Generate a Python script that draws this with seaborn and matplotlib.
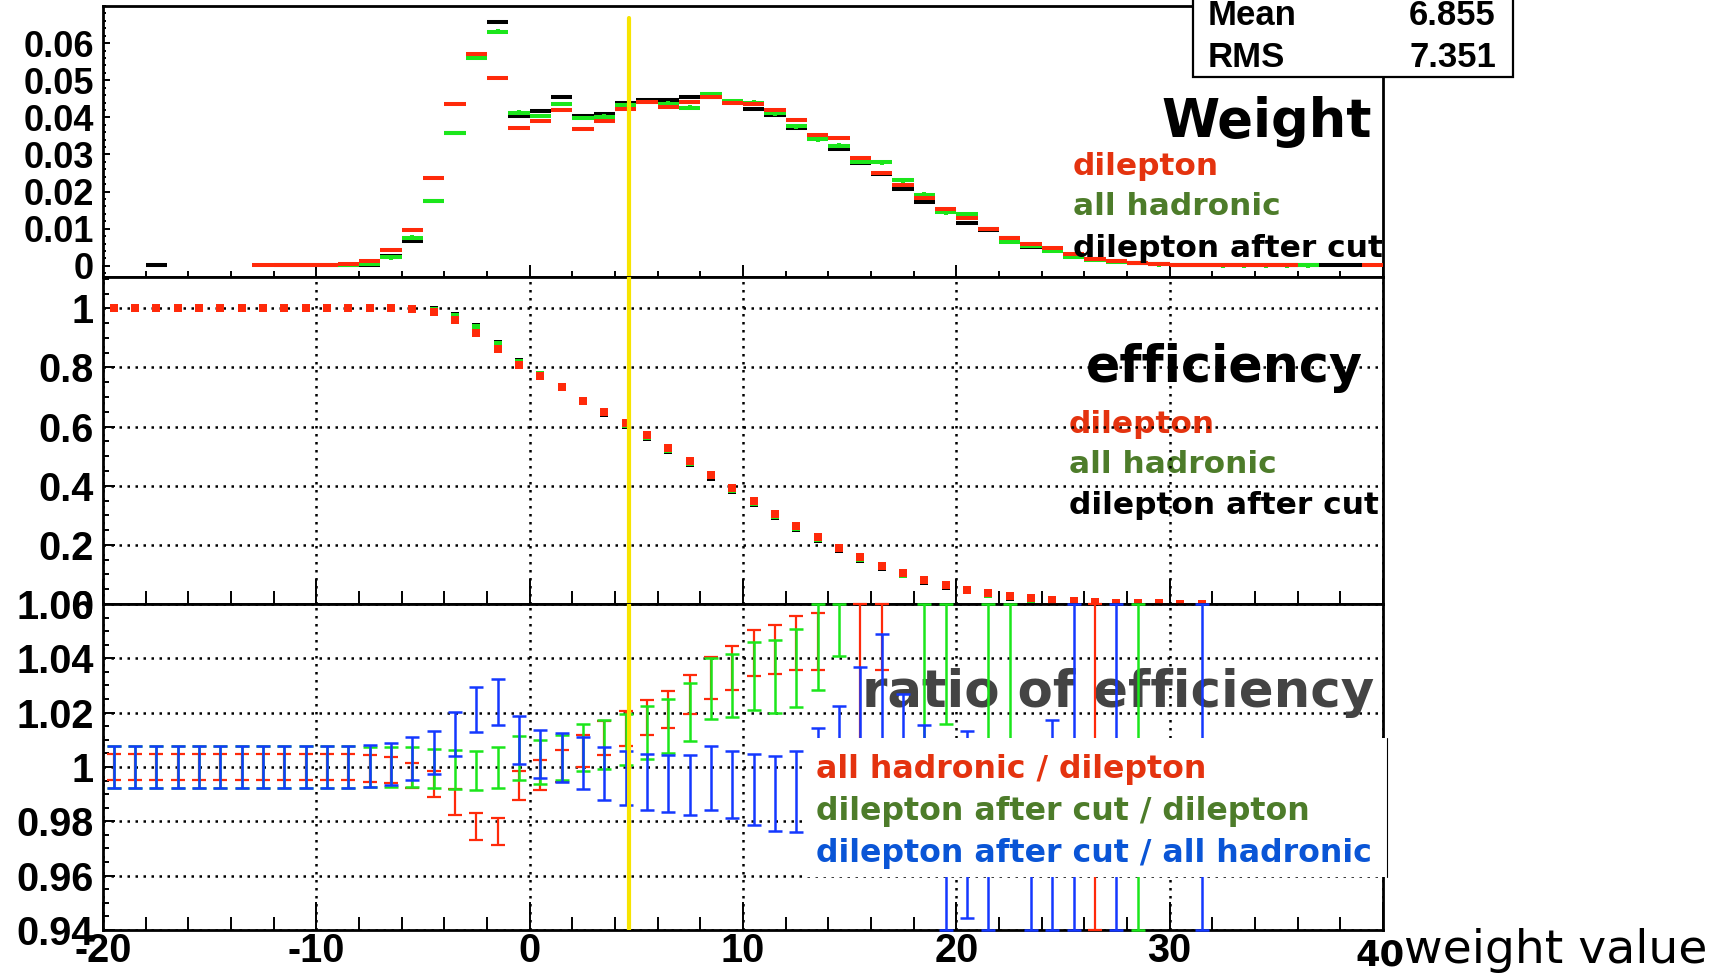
import numpy as np
import matplotlib
matplotlib.use("Agg")
import matplotlib.pyplot as plt
import seaborn as sns
from matplotlib.patches import Rectangle
from matplotlib.lines import Line2D

nan = np.nan

# ---------------- data ----------------
bin_centers = np.arange(-19.5, 40.0, 1.0)          # 60 bins of width 1 from -20 to 40

w_dilepton = [nan, nan, nan, nan, nan, nan, nan, 0.0001, 0.0001, 0.0002,
              0.0002, 0.0005, 0.0014, 0.0044, 0.0097, 0.0238, 0.0435, 0.0570, 0.0507, 0.0372,
              0.0391, 0.0420, 0.0370, 0.0391, 0.0422, 0.0441, 0.0429, 0.0441, 0.0454, 0.0438,
              0.0437, 0.0420, 0.0392, 0.0353, 0.0344, 0.0290, 0.0250, 0.0218, 0.0182, 0.0153,
              0.0130, 0.0100, 0.0076, 0.0059, 0.0049, 0.0031, 0.0019, 0.0012, 0.0008, 0.0005,
              0.0003, 0.0002, 0.0002, 0.0001, 0.0001, 0.0001, nan, nan, nan, 0.0001]
w_hadronic = [nan, nan, nan, nan, nan, nan, nan, nan, nan, nan,
              nan, 0.0002, 0.0005, 0.0023, 0.0076, 0.0175, 0.0358, 0.0560, 0.0631, 0.0413,
              0.0403, 0.0436, 0.0398, 0.0402, 0.0433, 0.0442, 0.0437, 0.0426, 0.0462, 0.0443,
              0.0440, 0.0411, 0.0376, 0.0341, 0.0324, 0.0280, 0.0279, 0.0230, 0.0192, 0.0144,
              0.0140, 0.0099, 0.0064, 0.0053, 0.0040, 0.0025, 0.0017, 0.0011, 0.0007, 0.0004,
              0.0003, 0.0002, 0.0001, 0.0001, 0.0001, 0.0001, 0.0001, nan, nan, nan]
w_aftercut = [nan, nan, 0.0002, nan, nan, nan, nan, nan, 0.0001, 0.0001,
              0.0001, 0.0001, 0.0003, 0.0027, 0.0068, 0.0174, 0.0357, 0.0564, 0.0658, 0.0403,
              0.0418, 0.0455, 0.0403, 0.0409, 0.0438, 0.0447, 0.0446, 0.0455, 0.0456, 0.0441,
              0.0423, 0.0407, 0.0371, 0.0347, 0.0314, 0.0278, 0.0248, 0.0208, 0.0173, 0.0147,
              0.0116, 0.0097, 0.0075, 0.0050, 0.0045, 0.0028, 0.0019, 0.0012, 0.0008, 0.0005,
              0.0003, 0.0002, 0.0001, 0.0001, 0.0001, 0.0001, 0.0001, 0.0001, 0.0001, nan]

eff_x = np.arange(-19.5, 32.0, 1.0)                 # 52 points
eff_dilepton = [1.0] * 14 + [0.997, 0.987, 0.962, 0.918, 0.862, 0.810, 0.772, 0.734, 0.688, 0.651,
                0.611, 0.570, 0.527, 0.484, 0.438, 0.392, 0.349, 0.305, 0.263, 0.226,
                0.191, 0.158, 0.130, 0.104, 0.081, 0.064, 0.049, 0.036, 0.027, 0.019,
                0.014, 0.009, 0.006, 0.004, 0.003, 0.002, 0.001, 0.0005]
eff_hadronic = [1.0] * 14 + [0.999, 0.992, 0.970, 0.933, 0.876, 0.814, 0.774, 0.735, 0.688, 0.650,
                0.609, 0.567, 0.524, 0.481, 0.435, 0.389, 0.346, 0.302, 0.260, 0.223,
                0.189, 0.156, 0.128, 0.102, 0.080, 0.063, 0.048, 0.035, 0.026, 0.018,
                0.013, 0.008, 0.005, 0.004, 0.003, 0.002, 0.001, 0.0005]
eff_aftercut = [1.0] * 14 + [0.999, 0.994, 0.974, 0.937, 0.880, 0.818, 0.776, 0.734, 0.686, 0.647,
                0.606, 0.564, 0.521, 0.477, 0.431, 0.385, 0.342, 0.298, 0.257, 0.220,
                0.186, 0.153, 0.125, 0.100, 0.078, 0.061, 0.047, 0.034, 0.025, 0.017,
                0.012, 0.008, 0.005, 0.003, 0.002, 0.001, 0.001, 0.0005]

# ratio of efficiency: central values and half-errors (52 points, same x as eff_x)
r_had_dil = [1.0] * 12 + [0.9993, 0.9988, 0.9968, 0.9938, 0.9872, 0.9782, 0.9763, 0.9933,
             0.9970, 1.0003, 1.0059, 1.0107, 1.0141, 1.0183, 1.0210, 1.0266, 1.0327, 1.0365,
             1.0419, 1.0433, 1.0456, 1.0462, nan, 1.020, 1.062,
             nan, nan, nan, nan, nan, nan, nan, nan, nan, 1.0, nan, nan, nan, nan, nan]
e_had_dil = [0.0048] * 12 + [0.0050, 0.0048, 0.0047, 0.0048, 0.0047, 0.0050, 0.0049, 0.0054,
             0.0054, 0.0060, 0.0058, 0.0062, 0.0064, 0.0065, 0.0068, 0.0071, 0.0077, 0.0080,
             0.0084, 0.0091, 0.0099, 0.0106, nan, 0.045, 0.0263,
             nan, nan, nan, nan, nan, nan, nan, nan, nan, 0.2, nan, nan, nan, nan, nan]
r_cut_dil = [1.0] * 15 + [0.9993, 0.9991, 0.9988, 0.9998, 1.0033,
             1.0019, 1.0035, 1.0073, 1.0083, 1.0102, 1.0127, 1.0151, 1.0201, 1.0288, 1.0300,
             1.0335, 1.0333, 1.0364, 1.0442, 1.062, nan, nan, nan, 1.03, 1.04,
             nan, 1.015, 1.015, nan, nan, nan, nan, nan, 1.0, nan, nan, nan]
e_cut_dil = [0.0077] * 12 + [0.0072, 0.0072, 0.0072, 0.0072, 0.0073, 0.0072, 0.0077, 0.0080,
             0.0081, 0.0083, 0.0086, 0.0089, 0.0094, 0.0096, 0.0100, 0.0107, 0.0112, 0.0116,
             0.0126, 0.0134, 0.0144, 0.0157, 0.021, nan, nan, nan, 0.05, 0.0243,
             nan, 0.05, 0.05, nan, nan, nan, nan, nan, 0.2, nan, nan, nan]
r_cut_had = [1.0] * 12 + [1.0003, 1.0010, 1.0031, 1.0054, 1.0122, 1.0210, 1.0238, 1.0099,
             1.0047, 1.0035, 1.0014, 0.9976, 0.9959, 0.9945, 0.9940, 0.9935, 0.9959, 0.9935,
             0.9917, 0.9903, 0.9910, 0.990, 0.995, 1.000, 1.005, 1.000, 0.990, 0.950,
             0.9789, 0.950, nan, 0.950, 0.970, 1.0, nan, 1.0, nan, nan, nan, 1.0]
e_cut_had = [0.0077] * 12 + [0.0077, 0.0078, 0.0079, 0.0079, 0.0080, 0.0083, 0.0085, 0.0087,
             0.0089, 0.0090, 0.0096, 0.0097, 0.0099, 0.0102, 0.0106, 0.0110, 0.0117, 0.0123,
             0.0130, 0.0139, 0.0149, 0.0243, 0.0273, 0.0369, 0.0438, 0.0270, 0.0253, 0.050,
             0.0343, 0.050, nan, 0.050, 0.0472, 0.2, nan, 0.2, nan, nan, nan, 0.2]

cut_position = 4.65
x_ticks = [-20, -10, 0, 10, 20, 30, 40]
x_tick_labels = ["-20", "-10", "0", "10", "20", "30", ""]
last_x_label = "40"
top_yticks = [0, 0.01, 0.02, 0.03, 0.04, 0.05, 0.06]
top_ylabels = ["0", "0.01", "0.02", "0.03", "0.04", "0.05", "0.06"]
mid_yticks = [0, 0.2, 0.4, 0.6, 0.8, 1.0]
mid_ylabels = ["0", "0.2", "0.4", "0.6", "0.8", "1"]
bot_yticks = [0.94, 0.96, 0.98, 1.0, 1.02, 1.04, 1.06]
bot_ylabels = ["0.94", "0.96", "0.98", "1", "1.02", "1.04", "1.06"]

# ---------------- style ----------------
sns.set_theme(style="white")
plt.rcParams['font.family'] = ['Liberation Sans', 'DejaVu Sans']
plt.rcParams['axes.unicode_minus'] = False

RED, GREEN, BLUE, YELLOW = '#ff2a0a', '#1be61b', '#1438ff', '#f7e400'
TXT_RED, TXT_GREEN, TXT_BLUE, TXT_GRAY = '#e4330f', '#4d7c2a', '#0a55d6', '#444444'
TITLE_FONT = 'DejaVu Sans'

W, H = 1715, 976
fig = plt.figure(figsize=(W / 100, H / 100), dpi=100)
fig.patch.set_facecolor('white')


def axes_px(x0, y0, x1, y1):
    return fig.add_axes([x0 / W, 1 - y1 / H, (x1 - x0) / W, (y1 - y0) / H])


def fx(x):
    return x / W


def fy(y):
    return 1 - y / H


ax_top = axes_px(103, 6, 1383, 277)
ax_mid = axes_px(103, 277, 1383, 604)
ax_bot = axes_px(103, 604, 1383, 930)

GRID = dict(color='black', linestyle=(0, (1, 2.2)), linewidth=1.8)


def style(ax, xl, ylims, yticks, ylabels, ysize, xmaj, xmin, ymaj, ymin, yminor_step, grid):
    ax.set_facecolor('white')
    ax.set_xlim(-20, 40)
    ax.set_ylim(*ylims)
    for s in ax.spines.values():
        s.set_visible(True)
        s.set_color('black')
        s.set_linewidth(2.0)
    ax.set_xticks(x_ticks)
    ax.set_xticks(np.arange(-20, 41, 2), minor=True)
    ax.set_yticks(yticks, ylabels, fontsize=ysize, fontweight='bold')
    ax.set_yticks(np.arange(ylims[0] - ylims[0] % yminor_step, ylims[1], yminor_step), minor=True)
    ax.set_ylim(*ylims)
    ax.tick_params(axis='x', which='major', direction='in', length=xmaj, width=1.4,
                   bottom=True, top=False, color='black')
    ax.tick_params(axis='x', which='minor', direction='in', length=xmin, width=1.4,
                   bottom=True, top=False, color='black')
    ax.tick_params(axis='y', which='major', direction='in', length=ymaj, width=1.4,
                   left=True, right=False, pad=6.5, color='black', labelcolor='black')
    ax.tick_params(axis='y', which='minor', direction='in', length=ymin, width=1.4,
                   left=True, right=False, color='black')
    if xl:
        ax.set_xticklabels(x_tick_labels, fontsize=28.5, fontweight='bold')
        ax.tick_params(axis='x', which='major', pad=1.5, labelcolor='black')
    else:
        ax.tick_params(axis='x', labelbottom=False)
    if grid:
        ax.grid(True, which='major', **GRID)
    else:
        ax.grid(False)
    ax.grid(False, which='minor')
    ax.set_xlabel('')
    ax.set_ylabel('')


style(ax_top, False, (-0.003, 0.070), top_yticks, top_ylabels, 26, 8.6, 4.3, 5, 2.5, 0.002, False)
style(ax_mid, False, (0.0, 1.106), mid_yticks, mid_ylabels, 28.5, 18, 9.4, 8.6, 4.3, 0.05, True)
style(ax_bot, True, (0.94, 1.06), bot_yticks, bot_ylabels, 28.5, 20, 9.4, 8.6, 4.3, 0.005, True)

# ---------------- top panel: weight histograms ----------------
for vals, col, err in [(w_aftercut, 'black', 0.0003), (w_hadronic, GREEN, 0.0006),
                       (w_dilepton, RED, 0.0004)]:
    ax_top.errorbar(bin_centers, vals, xerr=0.5, yerr=err, fmt='none', ecolor=col,
                    elinewidth=2.9, capsize=0, zorder=3)

# ---------------- middle panel: efficiencies ----------------
for vals, col in [(eff_aftercut, 'black'), (eff_hadronic, GREEN), (eff_dilepton, RED)]:
    sns.scatterplot(x=eff_x, y=vals, ax=ax_mid, color=col, marker='s', s=30,
                    linewidth=0, zorder=3, legend=False)
ax_mid.set_xlabel('')
ax_mid.set_ylabel('')

# ---------------- bottom panel: ratios ----------------
lo, hi = 0.94, 1.06
for c, e, col, lw in [(r_had_dil, e_had_dil, RED, 1.6), (r_cut_dil, e_cut_dil, GREEN, 1.8),
                      (r_cut_had, e_cut_had, BLUE, 1.8)]:
    c = np.asarray(c, dtype=float)
    e = np.asarray(e, dtype=float)
    low = np.clip(c - e, lo, hi)
    up = np.clip(c + e, lo, hi)
    cc = np.clip(c, lo, hi)
    cont = ax_bot.errorbar(eff_x, cc, yerr=np.vstack([cc - low, up - cc]), fmt='none',
                           ecolor=col, elinewidth=lw, capsize=5, capthick=lw, zorder=3)
    for art in list(cont.lines[1]) + list(cont.lines[2]):
        art.set_clip_on(False)

# ---------------- cut line ----------------
ax_top.axvline(cut_position, ymin=0, ymax=(277 - 18) / 271, color=YELLOW, lw=3.0, zorder=6)
ax_mid.axvline(cut_position, color=YELLOW, lw=3.0, zorder=6)
ax_bot.axvline(cut_position, color=YELLOW, lw=3.0, zorder=6)

# ---------------- texts ----------------
fig.text(fx(1372), fy(137), "Weight", ha='right', va='baseline', fontsize=38,
         fontweight='bold', family=TITLE_FONT, color='black')
for s, col, yb in [("dilepton", TXT_RED, 175), ("all hadronic", TXT_GREEN, 215),
                   ("dilepton after cut", 'black', 257)]:
    fig.text(fx(1073), fy(yb), s, ha='left', va='baseline', fontsize=22.5,
             fontweight='bold', family=TITLE_FONT, color=col)

ax_mid.text(fx(1363), fy(382), "efficiency", transform=fig.transFigure, ha='right',
            va='baseline', fontsize=36.5, fontweight='bold', family=TITLE_FONT,
            color='black', zorder=0.3)
for s, col, yb in [("dilepton", TXT_RED, 433), ("all hadronic", TXT_GREEN, 473),
                   ("dilepton after cut", 'black', 514)]:
    ax_mid.text(fx(1069), fy(yb), s, transform=fig.transFigure, ha='left', va='baseline',
                fontsize=22.5, fontweight='bold', family=TITLE_FONT, color=col, zorder=0.3)

ax_bot.text(fx(1374), fy(707), "ratio of efficiency", transform=fig.transFigure, ha='right',
            va='baseline', fontsize=37, fontweight='bold', family=TITLE_FONT,
            color=TXT_GRAY, zorder=1, clip_on=False)

# legend box of the ratio panel
fig.add_artist(Rectangle((fx(806), fy(877)), (1387 - 806) / W, (877 - 738) / H,
                         transform=fig.transFigure, facecolor='white', edgecolor='none', zorder=1))
fig.add_artist(Line2D([fx(1387), fx(1387)], [fy(738), fy(877)], transform=fig.transFigure,
                      color='black', lw=0.8, zorder=1.1))
for s, col, yb in [("all hadronic / dilepton", TXT_RED, 778),
                   ("dilepton after cut / dilepton", TXT_GREEN, 820),
                   ("dilepton after cut / all hadronic", TXT_BLUE, 862)]:
    fig.text(fx(816), fy(yb), s, ha='left', va='baseline', fontsize=22.8,
             fontweight='bold', family=TITLE_FONT, color=col, zorder=3)

# statistics box
fig.add_artist(Rectangle((fx(1193), fy(77)), (1513 - 1193) / W, 100 / H,
                         transform=fig.transFigure, facecolor='white', edgecolor='black',
                         lw=1.6, zorder=1))
for lab, val, yb in [("Mean", "6.855", 25), ("RMS", "7.351", 67)]:
    fig.text(fx(1208), fy(yb), lab, ha='left', va='baseline', fontsize=25,
             fontweight='bold', color='black', zorder=3)
    fig.text(fx(1496), fy(yb), val, ha='right', va='baseline', fontsize=25,
             fontweight='bold', color='black', zorder=3)

# last x tick label (drawn in the title font, as in the original) and the axis title
fig.text(fx(1380), fy(966), last_x_label, ha='center', va='baseline', fontsize=25.5,
         fontweight='bold', family=TITLE_FONT, color='black')
fig.text(fx(1404), fy(963), "weight value", ha='left', va='baseline', fontsize=34,
         family=TITLE_FONT, color='black')

fig.savefig("out.png", dpi=100, facecolor='white')
